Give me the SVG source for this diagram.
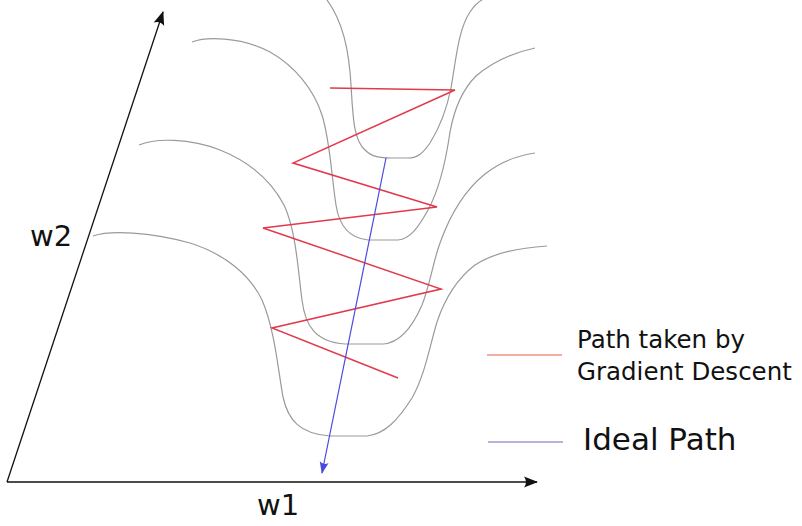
<svg xmlns="http://www.w3.org/2000/svg" width="802" height="526" viewBox="0 0 802 526">
<style>
.contour{fill:none;stroke:#9a9a9a;stroke-width:1.2}
.axis{fill:none;stroke:#111;stroke-width:1.3}
.gd{fill:none;stroke:#e23a4c;stroke-width:1.5;stroke-linejoin:miter}
.ideal{fill:none;stroke:#4a4adf;stroke-width:1.2}
.lbl{font-family:"DejaVu Sans","Liberation Sans",sans-serif;fill:#111}
</style>
<defs>
<marker id="ahBlack" markerUnits="userSpaceOnUse" viewBox="-15 -7 17 14" refX="0" refY="0" markerWidth="17" markerHeight="14" orient="auto" overflow="visible">
<path d="M1,0 L-13,-5.5 Q-9,0 -13,5.5 Z" fill="#111"/>
</marker>
<marker id="ahBlue" markerUnits="userSpaceOnUse" viewBox="-13 -6 15 12" refX="0" refY="0" markerWidth="15" markerHeight="12" orient="auto" overflow="visible">
<path d="M1,0 L-11,-4.5 Q-7.5,0 -11,4.5 Z" fill="#4a4adf"/>
</marker>
</defs>
<rect width="802" height="526" fill="#fff"/>

<g id="contours">
<path class="contour" d="M327,0 C343,22 349,50 351,85 C353,120 354,140 365,150 C372,157 380,158 392,158 L408,158 C418,158 423,153 430,143 C440,127 447,108 451,88 C456,60 458,30 470,12 C474,6 478,2 482,0"/>
<path class="contour" d="M192,42 C205,37 240,36 270,52 C295,66 314,90 322,115 C330,140 332,180 336,205 C339,225 348,238 368,240 L398,240 C410,239 418,228 428,210 C440,188 446,160 450,132 C454,110 462,90 476,76 C492,62 512,53 535,48"/>
<path class="contour" d="M139,145 C155,138 190,138 220,150 C250,162 272,182 284,205 C296,230 298,270 302,300 C305,325 315,342 345,344 L383,344 C400,343 412,328 422,305 C430,285 433,262 440,243 C450,215 465,190 485,174 C500,162 515,156 535,153"/>
<path class="contour" d="M93,236 C110,230 150,232 190,243 C225,254 250,275 262,300 C275,330 278,370 283,397 C288,420 300,434 330,436 L367,436 C385,434 398,420 412,398 C425,375 430,345 437,322 C445,298 458,278 475,265 C495,252 520,248 547,246"/>
</g>

<g id="connectors">
<line id="axis-w2" class="axis" x1="7" y1="482" x2="163" y2="12" marker-end="url(#ahBlack)"/>
<line id="axis-w1" class="axis" x1="7" y1="482" x2="537" y2="482" marker-end="url(#ahBlack)"/>
<polyline id="gradient-path" class="gd" points="330,88 455,90 293,163 437,207 263,228 441,289 272,328 398,378"/>
<line id="ideal-path" class="ideal" x1="386" y1="158" x2="322" y2="473" marker-end="url(#ahBlue)"/>
</g>

<g id="label-w2"><text class="lbl" x="30" y="246" font-size="29">w2</text></g>
<g id="label-w1"><text class="lbl" x="257" y="515" font-size="29">w1</text></g>

<g id="legend-gd">
<line x1="487" y1="355" x2="562" y2="355" stroke="#ec9484" stroke-width="1.5"/>
<text class="lbl" x="577" y="348" font-size="24.5">Path taken by</text>
<text class="lbl" x="577" y="380" font-size="24.5">Gradient Descent</text>
</g>
<g id="legend-ideal">
<line x1="488" y1="442" x2="563" y2="442" stroke="#9c9cd0" stroke-width="1.5"/>
<text class="lbl" x="583" y="450" font-size="31">Ideal Path</text>
</g>
</svg>
